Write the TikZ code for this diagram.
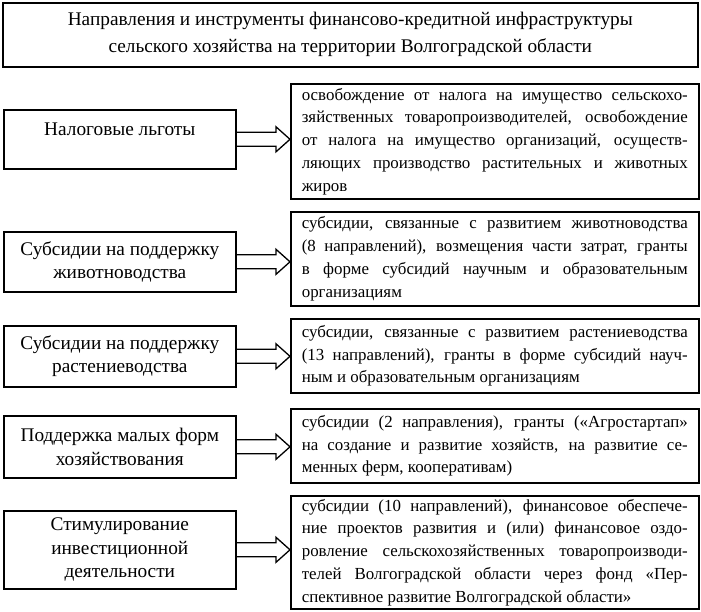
\documentclass[tikz,border=0pt]{standalone}
\usepackage{fontspec}
\setmainfont{Liberation Serif}
\usetikzlibrary{calc}

\begin{document}
\begin{tikzpicture}[x=1pt,y=-1pt,
  box/.style={draw,line width=1.6pt,rectangle,anchor=north west,inner sep=0pt},
  tbox/.style={box,minimum width=695pt,minimum height=64pt,align=center,font=\fontsize{19.3}{27}\selectfont},
  lbox/.style={box,minimum width=232pt,align=center,font=\fontsize{19.3}{23.5}\selectfont},
  rbox/.style={box,minimum width=408pt,text width=386pt,align=justify,font=\fontsize{16.9}{22.75}\selectfont},
  barrow/.style={line width=1.3pt,line join=miter}]
\useasboundingbox (0,0) rectangle (701,611);
% title
\node[tbox] (title) at (2,2) {Направления и инструменты финансово-кредитной инфраструктуры\\сельского хозяйства на территории Волгоградской области};
% left column
\node[lbox,minimum height=59pt,text depth=20pt] (l1) at (3,109) {Налоговые льготы};
\node[lbox,minimum height=60pt] (l2) at (3,231) {Субсидии на поддержку\\животноводства};
\node[lbox,minimum height=61pt] (l3) at (3,325) {Субсидии на поддержку\\растениеводства};
\node[lbox,minimum height=62pt] (l4) at (3,415) {Поддержка малых форм\\хозяйствования};
\node[lbox,minimum height=78pt] (l5) at (3,510) {Стимулирование\\инвестиционной\\деятельности};
% right column
\node[rbox,minimum height=115pt] (r1) at (290,83) {освобождение от налога на имущество сельскохо-\linebreak зяйственных товаропроизводителей, освобождение\linebreak от налога на имущество организаций, осуществ-\linebreak ляющих производство растительных и животных\linebreak жиров};
\node[rbox,minimum height=94pt] (r2) at (290,211) {субсидии, связанные с развитием животноводства\linebreak (8 направлений), возмещения части затрат, гранты\linebreak в форме субсидий научным и образовательным\linebreak организациям};
\node[rbox,minimum height=74pt] (r3) at (290,318) {субсидии, связанные с развитием растениеводства\linebreak (13 направлений), гранты в форме субсидий науч-\linebreak ным и образовательным организациям};
\node[rbox,minimum height=74pt] (r4) at (290,408) {субсидии (2 направления), гранты («Агростартап»\linebreak на создание и развитие хозяйств, на развитие се-\linebreak менных ферм, кооперативам)};
\node[rbox,minimum height=113pt] (r5) at (290,495) {субсидии (10 направлений), финансовое обеспече-\linebreak ние проектов развития и (или) финансовое оздо-\linebreak ровление сельскохозяйственных товаропроизводи-\linebreak телей Волгоградской области через фонд «Пер-\linebreak спективное развитие Волгоградской области»};
% block arrows
\foreach \i in {1,...,5}{
  \coordinate (t\i) at (l\i.east -| r\i.west);
  \draw[barrow] ($(l\i.east)+(0,-7)$) -- ($(t\i)+(-14,-7)$) -- ($(t\i)+(-14,-12.5)$) -- (t\i)
    -- ($(t\i)+(-14,12.5)$) -- ($(t\i)+(-14,7)$) -- ($(l\i.east)+(0,7)$);
}
\end{tikzpicture}
\end{document}
